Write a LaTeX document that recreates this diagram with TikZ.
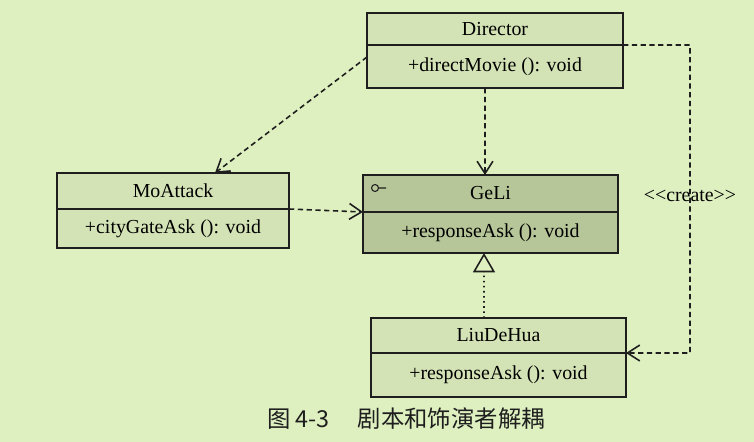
\documentclass[tikz,border=0pt]{standalone}
\usepackage{fontspec}
\setmainfont{Liberation Serif}
\newfontfamily\cjk{Noto Sans CJK SC}
\usetikzlibrary{positioning,arrows.meta}
\definecolor{bgc}{RGB}{222,240,192}
\definecolor{boxc}{RGB}{212,227,182}
\definecolor{ifc}{RGB}{182,198,152}
\definecolor{inkc}{RGB}{30,30,30}
\tikzset{cls/.style={draw=inkc, line width=1pt, fill=boxc, inner sep=0pt, outer sep=0pt, font=\fontsize{11.3}{13}\selectfont},
  dep/.style={draw=inkc, line width=0.9pt, dash pattern=on 3pt off 2pt, -{Straight Barb[length=7pt,width=9pt]}},
  real/.style={draw=inkc, line width=0.9pt, dotted, -{Triangle[open,fill=bgc,length=11pt,width=12.5pt]}}}
\begin{document}
\begin{tikzpicture}[x=0.02cm,y=-0.02cm]
\fill[bgc] (0,0) rectangle (754,442);
\useasboundingbox (0,0) rectangle (754,442);
% classes
\node[cls, minimum width=5.12cm, minimum height=0.64cm] (dir) at (495,29) {Director};
\node[cls, minimum width=5.12cm, minimum height=0.86cm, below=0pt of dir] (dirb) {+directMovie (): void};
\node[cls, minimum width=4.64cm, minimum height=0.72cm] (mo) at (173,191) {MoAttack};
\node[cls, minimum width=4.64cm, minimum height=0.78cm, below=0pt of mo] (mob) {+cityGateAsk (): void};
\node[cls, fill=ifc, minimum width=5.1cm, minimum height=0.74cm] (geli) at (490.5,193.5) {GeLi};
\node[cls, fill=ifc, minimum width=5.1cm, minimum height=0.82cm, below=0pt of geli] (gelib) {+responseAsk (): void};
\node[cls, minimum width=5.1cm, minimum height=0.7cm] (liu) at (498.5,335.5) {LiuDeHua};
\node[cls, minimum width=5.1cm, minimum height=0.88cm, below=0pt of liu] (liub) {+responseAsk (): void};
% interface mark
\draw[inkc, line width=0.6pt] ([shift={(0.24cm,-0.26cm)}]geli.north west) circle (0.07cm) +(0.07cm,0) -- +(0.22cm,0);
% connectors
\draw[dep] ([xshift=-0.2cm]dirb.south) -- ([xshift=-0.11cm]geli.north);
\draw[dep] ([yshift=-0.24cm]dirb.north west) -- ([xshift=0.84cm]mo.north);
\draw[dep] (mo.south east) -- (geli.south west);
\draw[real] ([xshift=-0.29cm]liu.north) -- ([xshift=-0.13cm]gelib.south);
\coordinate (crtop) at (690,45);
\coordinate (crbot) at (690,353);
\draw[dep] (dir.south east) -- (crtop) -- node[pos=0.49, font=\fontsize{11.3}{13}\selectfont] {<{}<create>{}>} (crbot) -- (liu.south east);
% caption
\node[font=\cjk\fontsize{13.3}{15}\selectfont, text=inkc] (cap) at (406,419) {图 4-3\hspace{1.2em}剧本和饰演者解耦};
\end{tikzpicture}
\end{document}
